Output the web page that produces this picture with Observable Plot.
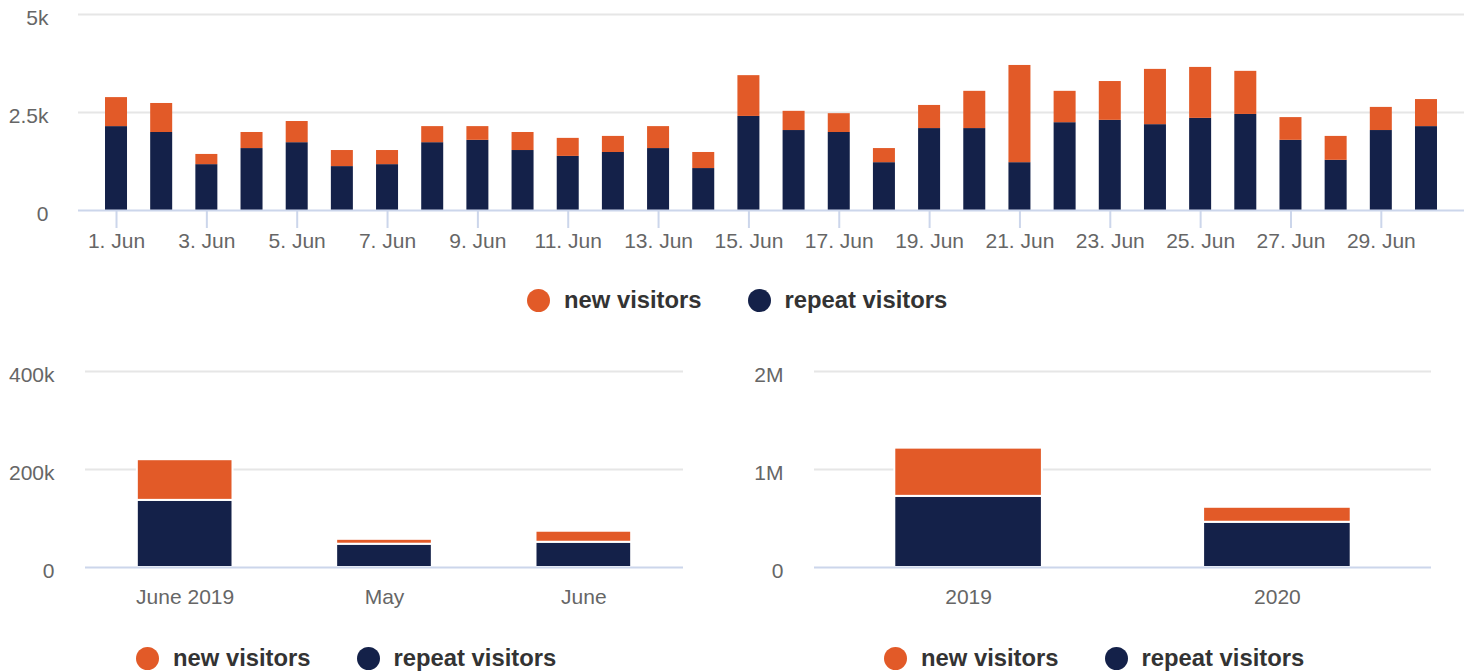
<!DOCTYPE html>
<html>
<head>
<meta charset="utf-8">
<script src="https://cdn.jsdelivr.net/npm/d3@7"></script>
<script src="https://cdn.jsdelivr.net/npm/@observablehq/plot@0.6"></script>
<style>
  body { margin: 0; background: #fff; font-family: "Liberation Sans", Arial, sans-serif; }
  #root { position: relative; width: 1470px; height: 672px; overflow: hidden; background: #fff; }
  .chart { position: absolute; }
  .legend { position: absolute; display: flex; align-items: center; height: 24px; font-weight: bold; font-size: 23.8px; color: #333; white-space: nowrap; }
  .legend .item { display: flex; align-items: center; margin-right: 46px; }
  .legend .sw { width: 23px; height: 23px; border-radius: 50%; margin-right: 14px; flex: none; }
</style>
</head>
<body>
<div id="root"></div>
<script>
// ---- data ----
const seriesNames = ["new visitors", "repeat visitors"];
const seriesColors = ["#e25a28", "#142149"];

const days = [1,2,3,4,5,6,7,8,9,10,11,12,13,14,15,16,17,18,19,20,21,22,23,24,25,26,27,28,29,30];
const dayTicks = [1,3,5,7,9,11,13,15,17,19,21,23,25,27,29];
const dailyRepeat = [2140,1990,1170,1580,1730,1120,1170,1730,1790,1530,1380,1480,1580,1070,2400,2040,1990,1220,2090,2090,1220,2240,2300,2190,2350,2450,1790,1280,2040,2140];
const dailyNew    = [740,740,260,410,540,410,360,410,350,460,460,410,560,410,1040,490,480,360,590,950,2480,800,990,1410,1300,1100,580,610,590,690];
const topYTicks = [0, 2500, 5000];
const topYLabels = ["0", "2.5k", "5k"];

const monthCats = ["June 2019", "May", "June"];
const monthRepeat = [137000, 47500, 51500];
const monthNew = [83000, 10000, 22500];
const monthYTicks = [0, 200000, 400000];
const monthYLabels = ["0", "200k", "400k"];

const yearCats = ["2019", "2020"];
const yearRepeat = [726000, 461500];
const yearNew = [492000, 153000];
const yearYTicks = [0, 1000000, 2000000];
const yearYLabels = ["0", "1M", "2M"];

// ---- helpers ----
const FONT = '"Liberation Sans", Arial, sans-serif';
function rowsFrom(cats, repeat, nw) {
  const rows = [];
  cats.forEach((c, i) => {
    rows.push({cat: c, series: "repeat visitors", value: repeat[i]});
    rows.push({cat: c, series: "new visitors", value: nw[i]});
  });
  return rows;
}
function labeler(ticks, labels) { return d => labels[ticks.indexOf(d)]; }

const root = document.getElementById("root");
function place(node, left, top) {
  node.classList.add("chart");
  node.style.left = left + "px";
  node.style.top = top + "px";
  root.appendChild(node);
}
function legend(left, top) {
  const div = document.createElement("div");
  div.className = "legend";
  div.style.left = left + "px";
  div.style.top = top + "px";
  seriesNames.forEach((name, i) => {
    const item = document.createElement("div");
    item.className = "item";
    const sw = document.createElement("span");
    sw.className = "sw";
    sw.style.background = seriesColors[i];
    const t = document.createElement("span");
    t.textContent = name;
    item.appendChild(sw);
    item.appendChild(t);
    div.appendChild(item);
  });
  root.appendChild(div);
}

// ---- top chart: daily ----
const topChart = Plot.plot({
  width: 1470, height: 255,
  marginTop: 14, marginBottom: 45, marginLeft: 78, marginRight: 6,
  style: {fontFamily: FONT, background: "transparent", overflow: "visible"},
  x: {type: "band", domain: days, paddingInner: 0.513, paddingOuter: 0.598, round: false, axis: null},
  y: {domain: [0, 5000], axis: null},
  color: {domain: seriesNames, range: seriesColors},
  marks: [
    Plot.gridY({ticks: [2500, 5000], stroke: "#e6e6e6", strokeOpacity: 1, strokeWidth: 2}),
    Plot.barY(rowsFrom(days, dailyRepeat, dailyNew), {x: "cat", y: "value", fill: "series"}),
    Plot.ruleY([0], {stroke: "#ccd6eb", strokeWidth: 2}),
    Plot.axisX({ticks: dayTicks, tickFormat: d => `${d}. Jun`, tickSize: 18, tickPadding: 5, label: null,
      stroke: "#ccd6eb", strokeWidth: 2, fill: "#666", fontSize: 21}),
    Plot.axisY({ticks: topYTicks, tickFormat: labeler(topYTicks, topYLabels), tickSize: 0, tickPadding: 30, label: null,
      fill: "#666", fontSize: 21, dy: 4})
  ]
});
place(topChart, 0, 0);
legend(527, 288);

// ---- bottom-left: months ----
const monthChart = Plot.plot({
  width: 735, height: 280,
  marginTop: 31, marginBottom: 53, marginLeft: 85, marginRight: 52,
  style: {fontFamily: FONT, background: "transparent", overflow: "visible"},
  x: {type: "band", domain: monthCats, paddingInner: 0.52, paddingOuter: 0.26, round: false, axis: null},
  y: {domain: [0, 400000], axis: null},
  color: {domain: seriesNames, range: seriesColors},
  marks: [
    Plot.gridY({ticks: [200000, 400000], stroke: "#e6e6e6", strokeOpacity: 1, strokeWidth: 2}),
    Plot.barY(rowsFrom(monthCats, monthRepeat, monthNew), {x: "cat", y: "value", fill: "series", stroke: "#fff", strokeWidth: 2}),
    Plot.ruleY([0], {stroke: "#ccd6eb", strokeWidth: 2}),
    Plot.axisX({tickSize: 0, tickPadding: 22, label: null, fill: "#666", fontSize: 21}),
    Plot.axisY({ticks: monthYTicks, tickFormat: labeler(monthYTicks, monthYLabels), tickSize: 0, tickPadding: 31, label: null,
      fill: "#666", fontSize: 21, dy: 4})
  ]
});
place(monthChart, 0, 340);
legend(136, 646);

// ---- bottom-right: years ----
const yearChart = Plot.plot({
  width: 735, height: 280,
  marginTop: 31, marginBottom: 53, marginLeft: 79, marginRight: 39,
  style: {fontFamily: FONT, background: "transparent", overflow: "visible"},
  x: {type: "band", domain: yearCats, paddingInner: 0.522, paddingOuter: 0.26, round: false, axis: null},
  y: {domain: [0, 2000000], axis: null},
  color: {domain: seriesNames, range: seriesColors},
  marks: [
    Plot.gridY({ticks: [1000000, 2000000], stroke: "#e6e6e6", strokeOpacity: 1, strokeWidth: 2}),
    Plot.barY(rowsFrom(yearCats, yearRepeat, yearNew), {x: "cat", y: "value", fill: "series", stroke: "#fff", strokeWidth: 2}),
    Plot.ruleY([0], {stroke: "#ccd6eb", strokeWidth: 2}),
    Plot.axisX({tickSize: 0, tickPadding: 22, label: null, fill: "#666", fontSize: 21}),
    Plot.axisY({ticks: yearYTicks, tickFormat: labeler(yearYTicks, yearYLabels), tickSize: 0, tickPadding: 31, label: null,
      fill: "#666", fontSize: 21, dy: 4})
  ]
});
place(yearChart, 735, 340);
legend(884, 646);
</script>
</body>
</html>
